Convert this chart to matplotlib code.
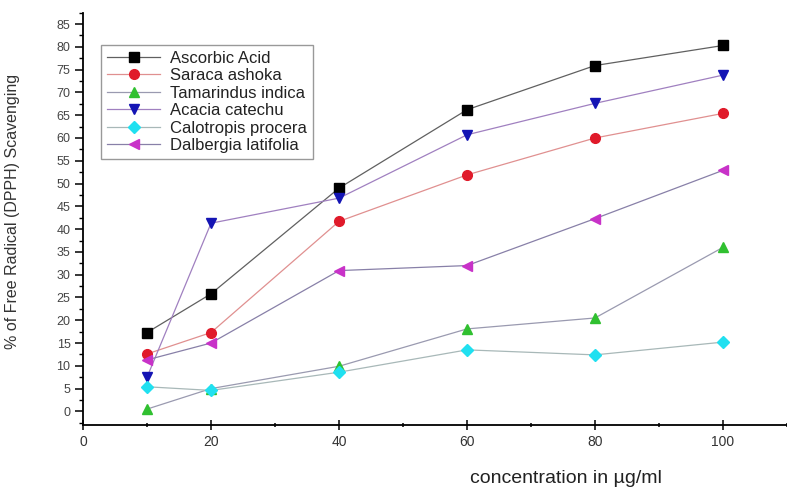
import matplotlib
matplotlib.use("Agg")
import matplotlib.pyplot as plt
from matplotlib.ticker import MultipleLocator

plt.rcParams['font.family'] = ['Liberation Sans', 'DejaVu Sans']

# concentration (ug/ml)
conc = [10, 20, 40, 60, 80, 100]

# % scavenging
ascorbic = [17.3, 25.8, 49.0, 66.2, 75.9, 80.3]
saraca = [12.6, 17.3, 41.7, 51.9, 60.0, 65.4]
tamarindus = [0.5, 5.0, 9.9, 18.1, 20.5, 36.0]
acacia = [7.5, 41.3, 46.8, 60.7, 67.6, 73.8]
calotropis = [5.4, 4.6, 8.6, 13.5, 12.4, 15.2]
dalbergia = [11.3, 15.0, 30.9, 32.0, 42.3, 52.9]

names = ["Ascorbic Acid", "Saraca ashoka", "Tamarindus indica",
         "Acacia catechu", "Calotropis procera", "Dalbergia latifolia"]
series = [ascorbic, saraca, tamarindus, acacia, calotropis, dalbergia]
markers = ['s', 'o', '^', 'v', 'D', '<']
mcolors = ['#000000', '#e01a2a', '#30c030', '#1414b4', '#20e0f0', '#c832c8']
lcolors = ['#606060', '#e09090', '#9a9ab0', '#a080c0', '#a8b8b8', '#8880a8']
msizes = [6.5, 7, 7, 7, 6.5, 7]

fig = plt.figure(figsize=(7.87, 4.88), dpi=100)
ax = fig.add_axes([0.1055, 0.129, 0.8945, 0.845])

for y, name, m, mc, lc, ms in zip(series, names, markers, mcolors, lcolors, msizes):
    ax.plot(conc, y, color=lc, lw=0.9, marker=m, ms=ms,
            markerfacecolor=mc, markeredgecolor=mc, label=name)

ax.set_xlim(0, 110)
ax.set_ylim(-3, 87.5)
ax.xaxis.set_major_locator(MultipleLocator(20))
ax.xaxis.set_minor_locator(MultipleLocator(10))
ax.yaxis.set_major_locator(MultipleLocator(5))
ax.yaxis.set_minor_locator(MultipleLocator(2.5))
ax.set_yticks(range(0, 90, 5))

for s in ['top', 'right']:
    ax.spines[s].set_visible(False)
for s in ['left', 'bottom']:
    ax.spines[s].set_linewidth(1.3)

ax.tick_params(axis='x', which='major', direction='inout', length=7, width=1.1,
               labelsize=10, labelcolor='#333333', pad=4)
ax.tick_params(axis='x', which='minor', direction='inout', length=3, width=1.1)
ax.tick_params(axis='y', which='major', direction='out', length=6, width=1.1,
               labelsize=9, labelcolor='#444444', pad=3)
ax.tick_params(axis='y', which='minor', direction='out', length=3, width=1)

ax.set_ylabel("% of Free Radical (DPPH) Scavenging", fontsize=11.5, color='#333333')
ax.yaxis.set_label_coords(-0.09, 0.517)
ax.set_xlabel("concentration in µg/ml", fontsize=14, color='#222222', va='center')
ax.xaxis.set_label_coords(0.686, -0.13)

leg = ax.legend(loc='upper left', bbox_to_anchor=(0.0256, 0.922), borderaxespad=0,
                fontsize=12, frameon=True, fancybox=False, handlelength=3.2,
                labelspacing=0.15, borderpad=0.35, handletextpad=0.6)
leg.get_frame().set_edgecolor('#808080')
leg.get_frame().set_linewidth(1.0)
for t in leg.get_texts():
    t.set_color('#222222')

fig.savefig("out.png", dpi=100)
